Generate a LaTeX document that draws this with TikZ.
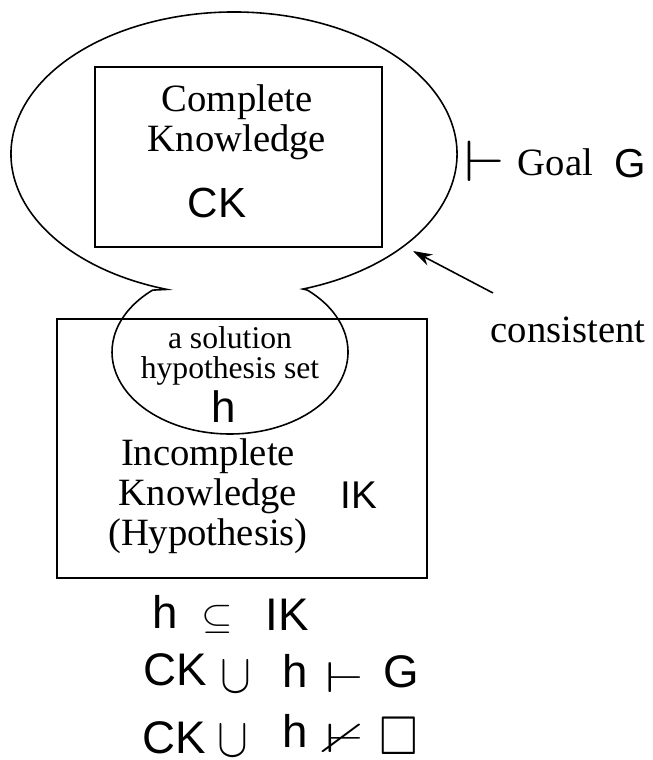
\documentclass[tikz,border=0pt]{standalone}
\usepackage{fontspec}
\setmainfont{Liberation Serif}
\setsansfont{Liberation Sans}
\usepackage{amssymb}
\usepackage{graphicx}
\usetikzlibrary{calc,arrows.meta}

\begin{document}
\begin{tikzpicture}[
		x=0.02cm, y=0.02cm,
		>={Stealth[length=11pt,width=7pt]},	% Pfeilspitzen
		line width=0.9pt,
		inner sep=0pt,
		txt/.style={font=\fontsize{22}{22.7}\selectfont, align=center},
		smalltxt/.style={font=\fontsize{18}{17}\selectfont, align=center},
		sym/.style={font=\sffamily\fontsize{22}{22}\selectfont, anchor=base west},
		formula/.style={font=\sffamily\fontsize{26}{26}\selectfont, anchor=base west, text depth=0pt},
		mathsym/.style={anchor=base west, text depth=0pt},
		box/.style={draw, rectangle}
	]
	\useasboundingbox (0,0) rectangle (652,-760);

	% Kasten und Umriss
	\node[box, minimum width=5.74cm, minimum height=3.6cm] (ckbox) at (238.5,-157) {};
	\node[box, minimum width=7.4cm, minimum height=5.18cm] (ikbox) at (242,-448.5) {};
	\coordinate (ckc) at (234,-154);
	\coordinate (hc) at (230,-352);
	\draw ($(ckc)+(252.5:223 and 142)$)
		arc[start angle=252.5, end angle=-72, x radius=223, y radius=142]
		-- ($(hc)+(49:118 and 82)$)
		arc[start angle=49, end angle=-229, x radius=118, y radius=82]
		-- cycle;

	% Texte
	\node[txt] (cktext) at (237,-122) {Complete\\Knowledge};
	\node[sym, anchor=base, font=\sffamily\fontsize{24}{24}\selectfont] (ck) at (217,-217) {CK};
	\node[smalltxt] (htext) at (230,-355.6) {a solution\\hypothesis set};
	\node[sym, anchor=base, font=\sffamily\fontsize{25}{25}\selectfont] (h) at (224,-422) {h};
	\node[txt] (iktext) at (208,-496) {Incomplete\\Knowledge\\(Hypothesis)};
	\node[sym] (ik) at (340,-508) {IK};

	% Ziel
	\node[mathsym] (turn) at (464,-182) {\resizebox{23pt}{23pt}{$\vdash$}};
	\node[txt, anchor=base west] (goal) at (517,-175) {Goal};
	\node[sym, font=\sffamily\fontsize{23}{23}\selectfont] (goalG) at (614,-178) {G};

	% konsistent
	\node[txt, anchor=base west] (cons) at (490,-342) {consistent};
	\coordinate (tail) at (493,-293);
	\coordinate (tip) at (413,-251);
	\draw[->] (tail) -- (tip);

	% Formeln
	\foreach \name/\x/\y/\t in {fa/152/628/h, fc/265/630/IK,
		fd/143/685/CK, ff/282/687/h, fh/383/687/G,
		fi/142/753/CK, fk/282/747/h}
		\node[formula] (\name) at (\x,-\y) {\t};
	\foreach \name/\x/\y/\t in {
		fb/201/628/{\resizebox*{18pt}{16pt}{$\subseteq$}},
		fe/220/692/{\resizebox{17.5pt}{17.5pt}{$\cup$}},
		fj/217/756/{\resizebox{17.5pt}{17.5pt}{$\cup$}},
		fg/325/692/{\resizebox{22pt}{17pt}{$\vdash$}},
		fl/325/752/{\resizebox*{22pt}{16pt}{$\nvdash$}},
		fm/379/754/{\resizebox{22pt}{21pt}{$\square$}}}
		\node[mathsym] (\name) at (\x,-\y) {\t};
\end{tikzpicture}
\end{document}
